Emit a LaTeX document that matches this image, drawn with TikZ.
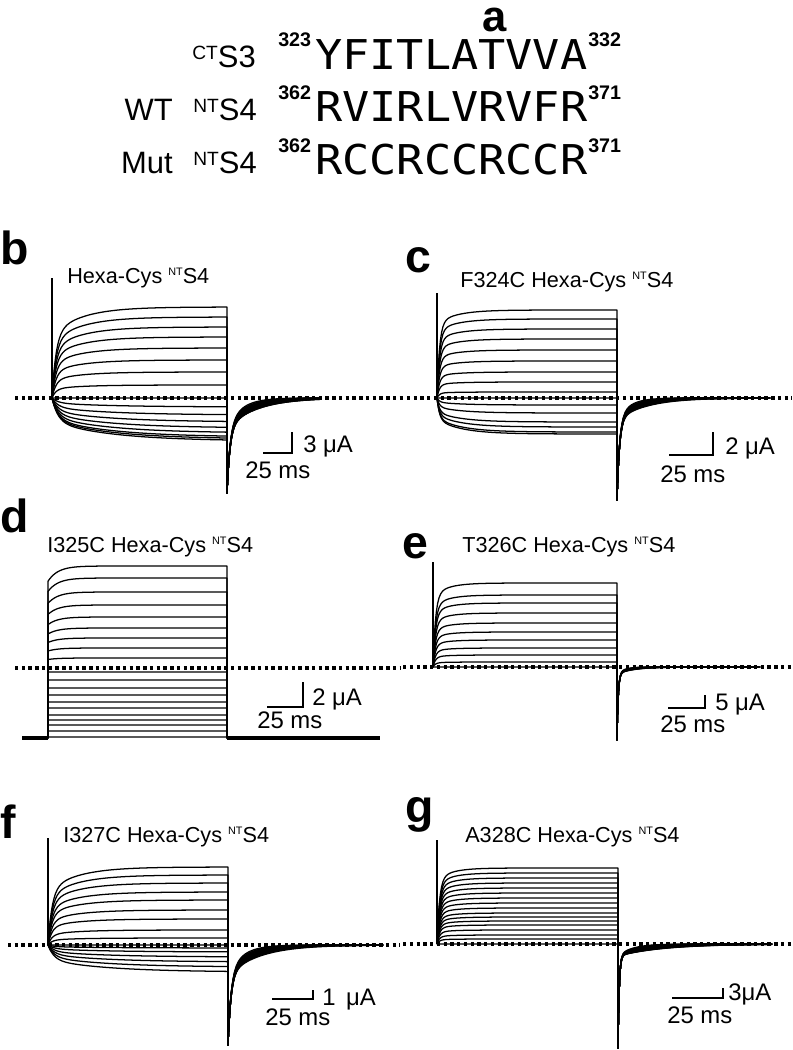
\documentclass[tikz,border=0pt]{standalone}
\usepackage{graphicx}
\usepackage{fontspec}
\setmainfont{Liberation Sans}
\newfontfamily\seqfont[FakeStretch=1.1]{DejaVu Sans Mono}
\newcommand{\ntsup}[2][0.5]{\raisebox{\dimexpr0.716em-#1\dimexpr0.716em\relax\relax}{\scalebox{#1}{#2}}}

\begin{document}
\begin{tikzpicture}[x=0.025cm, y=-0.025cm]
    \tikzset {
        trace/.style = {line width=0.9pt, line join=round},
        zero line/.style = {line width=2.2pt, dash pattern=on 2.4pt off 2.4pt},
        spike/.style = {line width=2pt},
        holding/.style = {line width=2.8pt},
        bar/.style = {line width=1pt},
        panel/.style = {anchor=base west, inner sep=0pt, font=\fontsize{33}{33}\selectfont\bfseries},
        ptitle/.style = {anchor=base west, inner sep=0pt, font=\fontsize{15.4}{16}\selectfont},
        barlabel/.style = {anchor=base west, inner sep=0pt, font=\fontsize{17}{18}\selectfont},
        rowname/.style = {anchor=base east, inner sep=0pt, font=\fontsize{22}{24}\selectfont},
        resnum/.style = {anchor=base west, inner sep=0pt, font=\fontsize{14}{15}\selectfont\bfseries},
        residues/.style = {anchor=base west, inner sep=0pt, font=\seqfont\fontsize{29.2}{30}\selectfont},
    }
    \useasboundingbox (0,0) rectangle (792,1050);

    % a: sequences
    \node[panel, font=\fontsize{31}{31}\selectfont\bfseries] (la) at (482,32) {a};
    \node[rowname] (s3) at (256,68) {\ntsup[0.62]{CT}S3};
    \node[rowname] (wt) at (173,121) {WT};
    \node[rowname] (wts4) at (257,121) {\ntsup[0.62]{NT}S4};
    \node[rowname] (mut) at (173,174) {Mut};
    \node[rowname] (muts4) at (257,174) {\ntsup[0.62]{NT}S4};
    \node[resnum] (n323) at (278,47) {323};
    \node[resnum] (n362) at (278,100) {362};
    \node[resnum] (m362) at (278,153) {362};
    \node[residues] (seqs3) at (315,70) {YFITLATVVA};
    \node[residues] (seqwt) at (315,122) {RVIRLVRVFR};
    \node[residues] (seqmut) at (315,175) {RCCRCCRCCR};
    \node[resnum] (n332) at (588,47) {332};
    \node[resnum] (n371) at (588,100) {371};
    \node[resnum] (m371) at (588,153) {371};

    % b: Hexa-Cys
    \node[panel] (lb) at (0,265) {b};
    \node[ptitle] (tb) at (67,283) {Hexa-Cys \ntsup{NT}S4};
    \draw[zero line] (15,398) -- (400,398);
    \foreach \a [count=\i] in {91,81,71,61,50,38,26,13,0}
        \draw[trace] plot[domain=0:13.23, samples=45] ({52+\x*\x}, {398-\a*(1-0.7*exp(-\x*\x/4)-0.3*exp(-\x*\x/30))})
            -- plot[domain=0:9.65, samples=40] ({227+\x*\x}, {398+65*exp(-\x*\x/3)+30*exp(-\x*\x/(12+2*\i))});
    \foreach \a [count=\i] in {9,17,24,30,35,39,41,43}
        \draw[trace] plot[domain=0:13.23, samples=45] ({52+\x*\x}, {398+\a*(0.55*(1-exp(-\x*\x/6))+0.45*(1-exp(-\x*\x/60)))})
            -- plot[domain=0:9.65, samples=40] ({227+\x*\x}, {398+65*exp(-\x*\x/3)+30*exp(-\x*\x/(14+2*\i))});
    \draw[spike] (52,398) -- (52,278);
    \draw[bar] (263,453) -- (292,453) -- (292,432);
    \node[barlabel] (ib) at (303,452) {3 μA};
    \node[barlabel] (sb) at (245,478) {25 ms};

    % c: F324C
    \node[panel] (lc) at (405,272) {c};
    \node[ptitle] (tc) at (460,287) {F324C Hexa-Cys \ntsup{NT}S4};
    \draw[zero line] (400,398) -- (792,398);
    \foreach \a [count=\i] in {88,79,69,59,48,37,26,16,6,0}
        \draw[trace] plot[domain=0:13.42, samples=45] ({437+\x*\x}, {398-\a*(1-0.85*exp(-\x*\x/2.5)-0.15*exp(-\x*\x/20))})
            -- plot[domain=0:12.37, samples=40] ({617+\x*\x}, {398+80*exp(-\x*\x/2.5)+22*exp(-\x*\x/(10+2*\i))});
    \foreach \a [count=\i] in {7,15,24,29,34,36}
        \draw[trace] plot[domain=0:13.42, samples=45] ({437+\x*\x}, {398+\a*(0.6*(1-exp(-\x*\x/2.5))+0.4*(1-exp(-\x*\x/25)))})
            -- plot[domain=0:12.37, samples=40] ({617+\x*\x}, {398+80*exp(-\x*\x/2.5)+22*exp(-\x*\x/(12+2*\i))});
    \draw[spike] (437,398) -- (437,293);
    \draw[bar] (669,455) -- (713,455) -- (713,432);
    \node[barlabel] (ic) at (725,454) {2 μA};
    \node[barlabel] (sc) at (660,482) {25 ms};

    % d: I325C
    \node[panel] (ld) at (0,532) {d};
    \node[ptitle] (td) at (47,552) {I325C Hexa-Cys \ntsup{NT}S4};
    \draw[zero line] (15,668) -- (400,668);
    \draw[holding] (22,738) -- (48,738) (227,738) -- (380,738);
    \foreach \L in {566,578,592,605,617,628,638,648,658,672,680,688,695,702,708,715,720,725,731,737} {
        \pgfmathsetmacro{\rise}{max(0,0.15*(668-\L))}
        \draw[trace] (48,738) -- plot[domain=0:13.38, samples=40] ({48+\x*\x}, {\L+\rise*exp(-\x*\x/10)}) -- (227,738);
    }
    \draw[bar] (267,707) -- (303,707) -- (303,682);
    \node[barlabel] (id) at (312,705) {2 μA};
    \node[barlabel] (sd) at (257,728) {25 ms};

    % e: T326C
    \node[panel] (le) at (402,558) {e};
    \node[ptitle] (te) at (462,552) {T326C Hexa-Cys \ntsup{NT}S4};
    \draw[zero line] (403,667) -- (792,667);
    \foreach \a [count=\i] in {84,72,64,54,44,35,27,19,12,5,0}
        \draw[trace] plot[domain=0:13.56, samples=45] ({433+\x*\x}, {667-\a*(1-0.85*exp(-\x*\x/2.5)-0.15*exp(-\x*\x/15))})
            -- plot[domain=0:11.96, samples=40] ({617+\x*\x}, {667+66*exp(-\x*\x/1.2)+7*exp(-\x*\x/(6+\i))});
    \draw[spike] (433,667) -- (433,562);
    \draw[bar] (668,708) -- (705,708) -- (705,695);
    \node[barlabel] (ie) at (715,710) {5 μA};
    \node[barlabel] (se) at (660,732) {25 ms};

    % f: I327C
    \node[panel] (lf) at (0,838) {f};
    \node[ptitle] (tf) at (63,842) {I327C Hexa-Cys \ntsup{NT}S4};
    \draw[zero line] (8,945) -- (400,945);
    \foreach \a [count=\i] in {78,70,62,53,45,35,26,15,7,0}
        \draw[trace] plot[domain=0:13.42, samples=45] ({48+\x*\x}, {945-\a*(1-0.7*exp(-\x*\x/4)-0.3*exp(-\x*\x/30))})
            -- plot[domain=0:12.45, samples=40] ({228+\x*\x}, {945+70*exp(-\x*\x/3)+30*exp(-\x*\x/(12+2*\i))});
    \foreach \a [count=\i] in {3,7,12,17,22,27}
        \draw[trace] plot[domain=0:13.42, samples=45] ({48+\x*\x}, {945+\a*(0.55*(1-exp(-\x*\x/6))+0.45*(1-exp(-\x*\x/60)))})
            -- plot[domain=0:12.45, samples=40] ({228+\x*\x}, {945+70*exp(-\x*\x/3)+30*exp(-\x*\x/(14+2*\i))});
    \draw[spike] (48,945) -- (48,838);
    \draw[bar] (272,999) -- (313,999) -- (313,990);
    \node[barlabel] (if) at (322,1005) {1 \,μA};
    \node[barlabel] (sf) at (265,1025) {25 ms};

    % g: A328C
    \node[panel] (lg) at (405,822) {g};
    \node[ptitle] (tg) at (465,842) {A328C Hexa-Cys \ntsup{NT}S4};
    \draw[zero line] (403,944) -- (792,944);
    \foreach \a [count=\i] in {76,71,66,61,56,51,46,41,36,31,27,23,19,14,9,5,0}
        \draw[trace] plot[domain=0:13.45, samples=45] ({437+\x*\x}, {944-\a*(1-0.85*exp(-\x*\x/2.5)-0.15*exp(-\x*\x/15))})
            -- plot[domain=0:12.41, samples=40] ({618+\x*\x}, {944+92*exp(-\x*\x/1.2)+12*exp(-\x*\x/(12+2*\i))});
    \draw[spike] (437,944) -- (437,840);
    \draw[bar] (672,998) -- (723,998) -- (723,988);
    \node[barlabel] (ig) at (728,1000) {3μA};
    \node[barlabel] (sg) at (667,1023) {25 ms};
\end{tikzpicture}
\end{document}
